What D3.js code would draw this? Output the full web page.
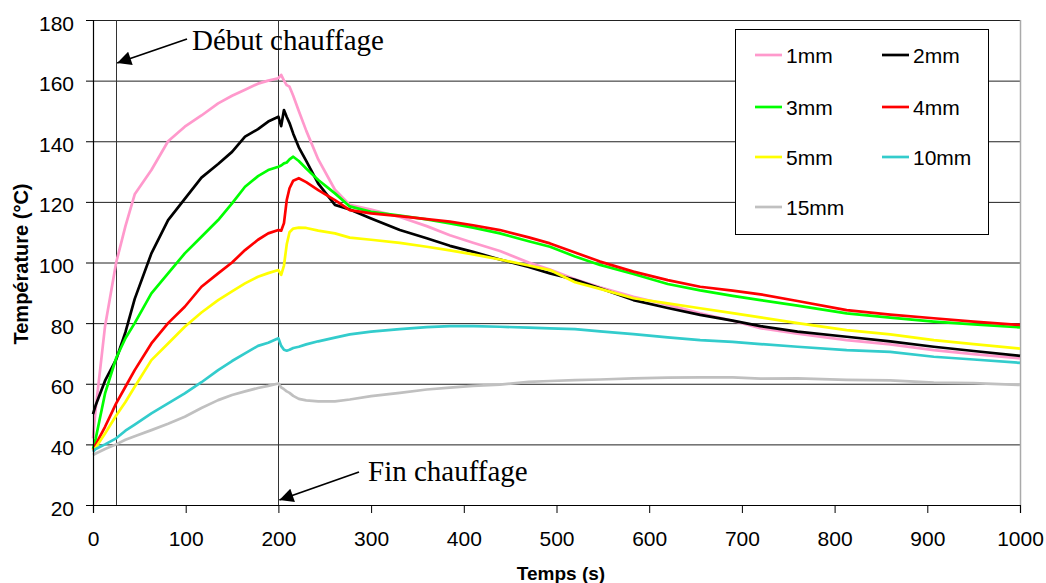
<!DOCTYPE html>
<html><head><meta charset="utf-8">
<script src="https://cdn.jsdelivr.net/npm/d3@7"></script>
<style>
html,body{margin:0;padding:0;background:#fff;}
svg{display:block;}
</style>
</head><body>
<svg id="chart" width="1046" height="583"></svg>
<script>
const times = [0,3,13,25,35,45,63,81,99,117,135,150,164,178,189,200,203,206,209,212,216,222,230,243,261,277,300,331,360,385,410,439,470,493,520,547,583,620,655,690,720,760,813,860,907,950,1000];
const s1mm  = [42,52,79,100,112,122.5,130.5,140,144.8,148.5,152.5,155,157,159,160,160.8,161.9,160,158.5,158,155,150,143.5,134,124,119,117.5,115,112,109,106.5,103.8,100,97.7,94.5,91.8,88.7,86,83.2,80.8,78.3,76.5,74.4,73,71.1,69.8,68.4];
const s2mm  = [50,53,61,68,77,88,103,114,121,128,132.5,136.5,141.5,144,146.5,148.1,145,150.3,148,146,142.5,138,133.5,126,119,117.5,114.5,110.7,108,105.5,103.5,101,98.5,96.4,94.3,91.5,87.6,85,82.7,80.8,79,77.2,75.5,74,72.2,70.8,69.2];
const s3mm  = [38.5,42,56.8,68.5,75,80,89.8,96.4,103,108.5,114,119.5,125,128.5,130.5,131.6,132,132.7,133,134,134.9,133.5,131,127.2,122.8,118.5,116.7,115.5,114.2,112.9,111.5,109.6,107,105.2,102,99.2,96.2,92.9,90.8,89,87.6,85.8,83.2,81.8,80.5,79.6,78.6];
const s4mm  = [38,40,45.8,53.5,59,64.5,73.3,80,85.4,92,96.4,100,104.1,107.5,109.6,110.7,110.5,113,120.6,124.5,127,127.8,126.5,123.9,120.6,117.3,116.2,115.3,114.3,113.5,112.3,110.7,108.3,106.3,103.3,100.3,97,94.2,92,90.7,89.5,87.3,84.3,82.8,81.6,80.5,79.4];
const s5mm  = [38,39,43.6,49.5,54,59,67.8,73.3,78.8,83.5,87.6,90.5,93.1,95.3,96.5,97.5,95.9,99,106,110,111.2,111.5,111.4,110.5,109.6,108.2,107.5,106.5,105.2,104,102.7,101,99,97.5,93.5,91.3,88.2,86.5,84.9,83.3,81.9,80,77.7,76.3,74.4,73.1,71.6];
const s10mm = [37.5,38.5,40,42,44.5,46.5,50.2,53.5,56.8,60.5,64.5,67.5,70,72.5,73.5,75,72.5,71.2,70.9,71.2,71.8,72.2,73,74,75.2,76.3,77.2,78,78.7,79,79,78.8,78.5,78.3,78,77.3,76.4,75.3,74.4,73.8,73.1,72.2,71.1,70.5,68.9,68,66.9];
const s15mm = [36.5,37,38.5,40,41.5,42.7,44.7,46.8,49.1,52,54.6,56.3,57.5,58.6,59.3,60.1,58.8,58.2,57.5,57,56,55,54.5,54.2,54.2,54.8,55.9,57,58.1,58.7,59.3,59.7,60.6,60.9,61.2,61.4,61.8,62,62.1,62.1,61.7,61.8,61.3,61.1,60.4,60.2,59.6];
const seriesNames = ["1mm","2mm","3mm","4mm","5mm","10mm","15mm"];
const seriesColors = ["#FF99CC","#000000","#00FF00","#FF0000","#FFFF00","#33CCCC","#C0C0C0"];
const seriesValues = [s1mm,s2mm,s3mm,s4mm,s5mm,s10mm,s15mm];
const xTicks = [0,100,200,300,400,500,600,700,800,900,1000];
const yTicks = [20,40,60,80,100,120,140,160,180];
const markerTimes = [25,200];
const annotations = [{text:"Début chauffage"},{text:"Fin chauffage"}];

const sans = "Liberation Sans, Arial, sans-serif";
const serif = "Liberation Serif, Times New Roman, serif";
const svg = d3.select("#chart");
const x = d3.scaleLinear().domain([0,1000]).range([93,1020]);
const y = d3.scaleLinear().domain([20,180]).range([505,20]);

// gridlines
svg.append("g").selectAll("line").data(yTicks).join("line")
  .attr("x1",x(0)).attr("x2",x(1000))
  .attr("y1",d=>y(d)+0.5).attr("y2",d=>y(d)+0.5)
  .attr("stroke","#222").attr("stroke-width",1);
// right border
svg.append("line").attr("x1",x(1000)+0.5).attr("x2",x(1000)+0.5).attr("y1",y(180)).attr("y2",y(20))
  .attr("stroke","#aaa").attr("stroke-width",1.5);
// vertical marker lines
svg.append("g").selectAll("line").data(markerTimes).join("line")
  .attr("x1",d=>Math.round(x(d))+0.5).attr("x2",d=>Math.round(x(d))+0.5)
  .attr("y1",y(180)).attr("y2",y(20))
  .attr("stroke","#333").attr("stroke-width",1);

// series
const line = d3.line().x((d,i)=>x(times[i])).y(d=>y(d));
svg.append("g").selectAll("path").data(seriesValues).join("path")
  .attr("d",d=>line(d)).attr("fill","none")
  .attr("stroke",(d,i)=>seriesColors[i]).attr("stroke-width",2.7)
  .attr("stroke-linejoin","round");

// axes
const yAxis = svg.append("g").attr("transform",`translate(${x(0)},0)`)
  .call(d3.axisLeft(y).tickValues(yTicks).tickSize(7).tickPadding(12).tickFormat(d3.format("d")));
const xAxis = svg.append("g").attr("transform",`translate(0,${y(20)})`)
  .call(d3.axisBottom(x).tickValues(xTicks).tickSize(8).tickPadding(18).tickFormat(d3.format("d")));
[yAxis,xAxis].forEach(a=>{
  a.select(".domain").attr("stroke","#000").attr("stroke-width",1.2);
  a.selectAll(".tick line").attr("stroke","#000");
  a.selectAll("text").attr("font-family",sans).attr("font-size",21).attr("fill","#000");
});
yAxis.selectAll("text").attr("dy","0.48em");

// axis titles
svg.append("text").attr("x",561).attr("y",580).attr("text-anchor","middle")
  .attr("font-family",sans).attr("font-weight","bold").attr("font-size",19)
  .text("Temps (s)");
svg.append("text").attr("transform","translate(28,264) rotate(-90)").attr("text-anchor","middle")
  .attr("font-family",sans).attr("font-weight","bold").attr("font-size",20)
  .text("Température (°C)");

// arrows
const defs = svg.append("defs");
defs.append("marker").attr("id","arrow").attr("viewBox","0 0 10 10").attr("refX",10).attr("refY",5)
  .attr("markerWidth",20).attr("markerHeight",14).attr("markerUnits","userSpaceOnUse").attr("orient","auto")
  .append("path").attr("d","M0,0 L10,5 L0,10 Z").attr("fill","#000");

svg.append("line").attr("x1",187).attr("y1",39).attr("x2",x(25)+1).attr("y2",63)
  .attr("stroke","#000").attr("stroke-width",1.8).attr("marker-end","url(#arrow)");
svg.append("line").attr("x1",359).attr("y1",472).attr("x2",x(200)+1).attr("y2",500)
  .attr("stroke","#000").attr("stroke-width",1.8).attr("marker-end","url(#arrow)");

svg.append("text").attr("x",192).attr("y",50)
  .attr("font-family",serif).attr("font-size",29).attr("fill","#000")
  .text(annotations[0].text);
svg.append("text").attr("x",368).attr("y",481)
  .attr("font-family",serif).attr("font-size",29).attr("fill","#000")
  .text(annotations[1].text);

// legend
const lg = svg.append("g");
lg.append("rect").attr("x",735.5).attr("y",29.5).attr("width",253).attr("height",205)
  .attr("fill","#fff").attr("stroke","#000").attr("stroke-width",1);
const rowsY = [55,107,157,207];
const items = lg.selectAll("g.item").data(seriesNames).join("g").attr("class","item")
  .attr("transform",(d,i)=>`translate(${i%2===0?755:882},${rowsY[Math.floor(i/2)]})`);
items.append("line").attr("x1",0).attr("x2",27).attr("y1",0).attr("y2",0)
  .attr("stroke",(d,i)=>seriesColors[i]).attr("stroke-width",2.7);
items.append("text").attr("x",31).attr("y",8)
  .attr("font-family",sans).attr("font-size",21).attr("fill","#000")
  .text(d=>d);
</script>
</body></html>
